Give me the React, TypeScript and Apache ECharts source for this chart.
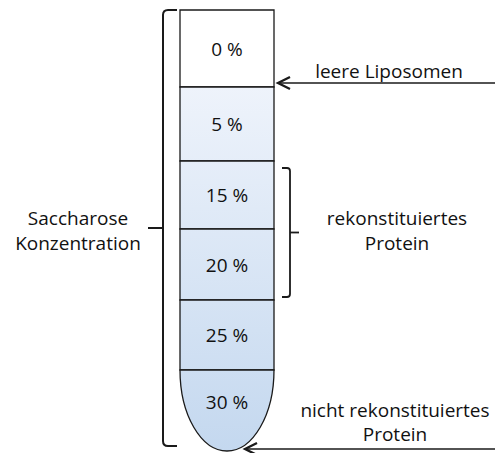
import React, { useEffect, useRef } from "react";
import * as echarts from "echarts";

// ---- data ----
const concentrations = ["0 %", "5 %", "15 %", "20 %", "25 %", "30 %"];
const leftLabel = ["Saccharose", "Konzentration"];
const topArrowLabel = ["leere Liposomen"];
const bracketLabel = ["rekonstituiertes", "Protein"];
const bottomArrowLabel = ["nicht rekonstituiertes", "Protein"];

// ---- layout (in axis units, 1 unit = 1 px) ----
const W = 495;
const H = 453;
const TUBE_L = 180;
const TUBE_R = 274;
const EDGES = [10, 87, 161, 229, 300, 370];
const BOTTOM_RY = 81;
const FONT = "'Open Sans', sans-serif";
const FS = 19;
const STROKE = "#1a1a1a";

export default function App() {
  const ref = useRef<HTMLDivElement>(null);
  useEffect(() => {
    if (!ref.current) return;
    const chart = echarts.init(ref.current, undefined, { renderer: "svg" });

    const tubeItem = (params: any, api: any) => {
      const i = api.value(0);
      const top = EDGES[i];
      const last = i === concentrations.length - 1;
      const bottom = last ? top + BOTTOM_RY : EDGES[i + 1];
      const p0 = api.coord([TUBE_L, top]);
      const p1 = api.coord([TUBE_R, bottom]);
      const gTop = api.coord([0, EDGES[1]])[1];
      const gBot = api.coord([0, EDGES[EDGES.length - 1] + BOTTOM_RY])[1];
      const fill =
        i === 0
          ? "#ffffff"
          : new echarts.graphic.LinearGradient(
              0, gTop, 0, gBot,
              [
                { offset: 0, color: "#eef3fb" },
                { offset: 1, color: "#c4d8ef" },
              ],
              true
            );
      let shape: any;
      if (!last) {
        shape = {
          type: "rect",
          shape: { x: p0[0], y: p0[1], width: p1[0] - p0[0], height: p1[1] - p0[1] },
          style: { fill, stroke: STROKE, lineWidth: 1.3 },
        };
      } else {
        const rx = (p1[0] - p0[0]) / 2;
        const ry = p1[1] - p0[1];
        const d = `M${p0[0]},${p0[1]} L${p1[0]},${p0[1]} A${rx} ${ry} 0 0 1 ${p0[0]},${p0[1]} Z`;
        shape = {
          type: "path",
          shape: { pathData: d },
          style: { fill, stroke: STROKE, lineWidth: 1.3 },
        };
      }
      const cy = last ? p0[1] + 32 : (p0[1] + p1[1]) / 2;
      return {
        type: "group",
        children: [
          shape,
          {
            type: "text",
            style: {
              text: concentrations[i],
              x: (p0[0] + p1[0]) / 2,
              y: cy,
              align: "center",
              verticalAlign: "middle",
              fontSize: FS,
              fontFamily: FONT,
              fill: "#111",
            },
          },
        ],
      };
    };

    const annotItem = (params: any, api: any) => {
      const c = (x: number, y: number) => api.coord([x, y]);
      const pth = (pts: string, lw: number) => ({
        type: "path",
        shape: { pathData: pts },
        style: { fill: "none", stroke: STROKE, lineWidth: lw, lineJoin: "miter" },
      });
      const P = (x: number, y: number) => c(x, y).join(",");
      const txt = (t: string, x: number, y: number) => {
        const p = c(x, y);
        return {
          type: "text",
          style: {
            text: t, x: p[0], y: p[1], align: "center", verticalAlign: "middle",
            fontSize: FS, fontFamily: FONT, fill: "#111",
          },
        };
      };
      const children: any[] = [
        // left bracket
        pth(`M${P(177, 10)} L${P(168, 10)} Q${P(163, 10)} ${P(163, 15)} L${P(163, 441)} Q${P(163, 446)} ${P(168, 446)} L${P(177, 446)}`, 2),
        pth(`M${P(163, 228)} L${P(148, 228)}`, 2),
        // right bracket
        pth(`M${P(282, 168)} L${P(287, 168)} Q${P(290, 168)} ${P(290, 171)} L${P(290, 294)} Q${P(290, 297)} ${P(287, 297)} L${P(282, 297)}`, 1.8),
        pth(`M${P(290, 232.5)} L${P(299, 232.5)}`, 1.8),
        // top arrow
        pth(`M${P(W, 83)} L${P(278, 83)}`, 1.3),
        pth(`M${P(290, 77)} L${P(278, 83)} L${P(290, 89)}`, 2.3),
        // bottom arrow
        pth(`M${P(W, 449)} L${P(245, 449)}`, 1.3),
        pth(`M${P(257, 443)} L${P(245, 449)} L${P(257, 455)}`, 2.3),
      ];
      leftLabel.forEach((t, k) => children.push(txt(t, 78, 218 + k * 25)));
      topArrowLabel.forEach((t, k) => children.push(txt(t, 389, 71 + k * 25)));
      bracketLabel.forEach((t, k) => children.push(txt(t, 397, 218 + k * 25)));
      bottomArrowLabel.forEach((t, k) => children.push(txt(t, 395, 410 + k * 24)));
      return { type: "group", children };
    };

    chart.setOption({
      animation: false,
      grid: { left: 0, right: 0, top: 0, bottom: 0 },
      xAxis: { type: "value", min: 0, max: W, show: false },
      yAxis: { type: "value", min: 0, max: H, inverse: true, show: false },
      series: [
        {
          type: "custom",
          renderItem: tubeItem,
          data: concentrations.map((_, i) => [i]),
          clip: false,
          silent: true,
        },
        {
          type: "custom",
          renderItem: annotItem,
          data: [[0]],
          clip: false,
          silent: true,
        },
      ],
    });
    return () => chart.dispose();
  }, []);
  return (
    <div
      ref={ref}
      style={{ position: "absolute", left: 0, top: 0, width: W, height: H, background: "#fff" }}
    />
  );
}
